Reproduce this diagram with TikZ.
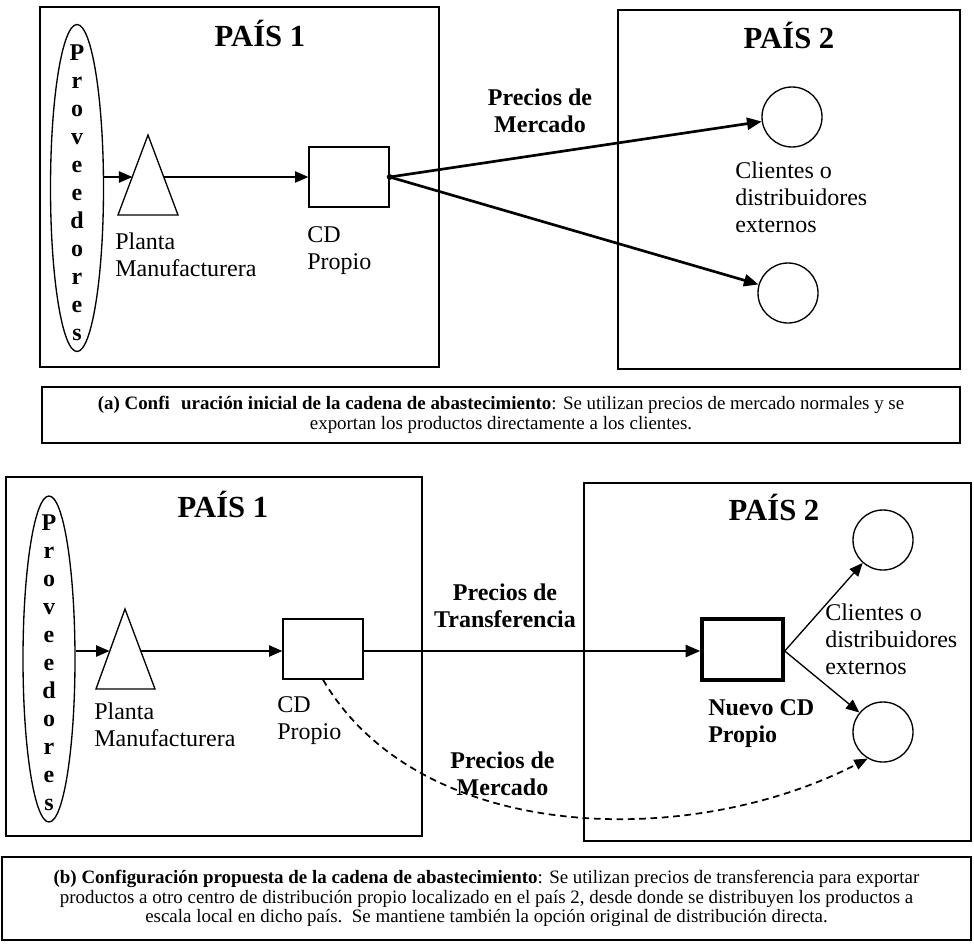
\documentclass[tikz,border=0pt]{standalone}
\usepackage{fontspec}
\setmainfont{Liberation Serif}
\usetikzlibrary{arrows.meta,shapes.geometric}
\begin{document}
\begin{tikzpicture}[x=0.75pt,y=-0.75pt,
  panelbox/.style={draw,line width=1pt,inner sep=0pt,outer sep=0pt},
  capbox/.style={draw,line width=1.1pt,inner sep=0pt,align=center,font=\fontsize{14.2}{14.8}\selectfont},
  cdbox/.style={draw,line width=1pt,minimum width=60pt,minimum height=45pt,inner sep=0pt},
  client/.style={draw,circle,line width=1pt,minimum size=45pt,inner sep=0pt},
  prov/.style={draw,ellipse,line width=1pt,inner sep=0pt},
  provtxt/.style={anchor=north,inner sep=0pt,align=center,font=\bfseries\fontsize{18}{21}\selectfont},
  ttl/.style={anchor=base,inner sep=0pt,font=\bfseries\fontsize{23}{27}\selectfont},
  lbl/.style={anchor=north west,inner sep=0pt,align=left,font=\fontsize{18}{20.25}\selectfont},
  blbl/.style={anchor=north,inner sep=0pt,align=center,font=\bfseries\fontsize{18}{20.25}\selectfont},
  blbll/.style={anchor=north west,inner sep=0pt,align=left,font=\bfseries\fontsize{18}{20.25}\selectfont},
  arr/.style={line width=1pt,-{Triangle[length=10pt,width=8.5pt]}},
  thickarr/.style={line width=2pt,-{Triangle[length=11pt,width=9pt]}},
  dasharr/.style={line width=1.3pt,dash pattern=on 5pt off 3.5pt,-{Triangle[length=10pt,width=8pt]}},
  tri/.style={line width=1pt,line join=miter}
]
\useasboundingbox (0,0) rectangle (974,943);

% ================= TOP PANEL =================
\node[panelbox,minimum width=299.25pt,minimum height=270pt] (p1a) at (239.5,187) {};
\node[panelbox,minimum width=256.5pt,minimum height=269.25pt] (p2a) at (789,189.5) {};
\node[ttl] (t1a) at (260,46) {PAÍS 1};
\node[ttl] (t2a) at (789,48) {PAÍS 2};

\node[prov,minimum width=39.75pt,minimum height=245.25pt] (prova) at (77,188) {};
\node[provtxt] (provta) at (77,45) {P\\r\\o\\v\\e\\e\\d\\o\\r\\e\\s};

\coordinate (triaA) at (148,135);
\coordinate (triaB) at (178,215);
\coordinate (triaC) at (118,215);
\draw[tri] (triaA) -- (triaB) -- (triaC) -- cycle;
\coordinate (triaL) at (132.3,177);
\coordinate (triaR) at (163.7,177);

\node[cdbox] (cda) at (349,177) {};
\node[lbl] (plantaa) at (115,232.6) {Planta\\Manufacturera};
\node[lbl] (cdla) at (307,226) {CD\\Propio};

\node[client] (c1) at (792,117) {};
\node[client] (c2) at (788,293) {};
\node[lbl] (clia) at (735,161.6) {Clientes o\\distribuidores\\externos};
\node[blbl] (pma) at (540,89) {Precios de\\Mercado};

\draw[arr] (prova.east |- triaL) -- (triaL);
\draw[arr] (triaR) -- (cda.west |- triaR);
\draw[thickarr] (cda.east) -- (c1);
\draw[thickarr] (cda.east) -- (c2);
\fill (cda.east) circle[radius=2.2pt];

% caption (a)
\node[capbox,minimum width=688.5pt,minimum height=42pt] (capa) at (501,415)
{\textbf{(a) Confi\hspace{0.6em}uración inicial de la cadena de abastecimiento}: Se utilizan precios de mercado normales y se\\exportan los productos directamente a los clientes.};

% ================= BOTTOM PANEL =================
\node[panelbox,minimum width=312pt,minimum height=269.25pt] (p1b) at (214,656.5) {};
\node[panelbox,minimum width=290.25pt,minimum height=268.5pt] (p2b) at (777.5,662) {};
\node[ttl] (t1b) at (223,517) {PAÍS 1};
\node[ttl] (t2b) at (774,520) {PAÍS 2};

\node[prov,minimum width=39pt,minimum height=244.5pt] (provb) at (49,659) {};
\node[provtxt] (provtb) at (49,515) {P\\r\\o\\v\\e\\e\\d\\o\\r\\e\\s};

\coordinate (tribA) at (125,609);
\coordinate (tribB) at (155,689);
\coordinate (tribC) at (96,689);
\draw[tri] (tribA) -- (tribB) -- (tribC) -- cycle;
\coordinate (tribL) at (109.5,651);
\coordinate (tribR) at (140.5,651);

\node[cdbox] (cdb) at (323,649) {};
\node[lbl] (plantab) at (94,702.6) {Planta\\Manufacturera};
\node[lbl] (cdlb) at (277,696) {CD\\Propio};

\node[draw,line width=2.6pt,minimum width=60.75pt,minimum height=45.75pt,inner sep=0pt] (ncd) at (742.5,649.5) {};
\node[blbll] (ncdl) at (708,699) {Nuevo CD\\Propio};

\node[client] (c3) at (883,540) {};
\node[client] (c4) at (883,732) {};
\node[lbl] (clib) at (825,603.6) {Clientes o\\distribuidores\\externos};

\node[blbl] (ptb) at (505,584) {Precios de\\Transferencia};
\node[blbl] (pmb) at (502.5,752) {Precios de\\Mercado};

\draw[arr] (provb.east |- tribL) -- (tribL);
\draw[arr] (tribR) -- (cdb.west |- tribR);
\draw[thickarr] (cdb.east |- tribR) -- (ncd.west |- tribR);
\draw[arr] (ncd.east |- tribR) -- (c3);
\draw[arr] (ncd.east |- tribR) -- (c4);
\draw[dasharr] (cdb.south) .. controls (420,845) and (690,850) .. (c4.240);

% caption (b)
\node[capbox,minimum width=726.75pt,minimum height=62.25pt] (capb) at (486.5,898.5)
{\textbf{(b) Configuración propuesta de la cadena de abastecimiento}: Se utilizan precios de transferencia para exportar\\productos a otro centro de distribución propio localizado en el país 2, desde donde se distribuyen los productos a\\escala local en dicho país.\ \ Se mantiene también la opción original de distribución directa.};
\end{tikzpicture}
\end{document}
